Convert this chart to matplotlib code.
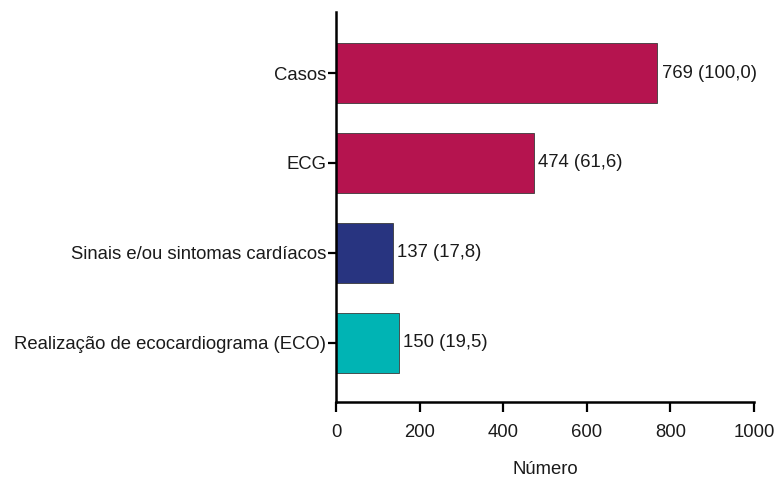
import matplotlib
matplotlib.use("Agg")
import matplotlib.pyplot as plt

categories = ["Casos", "ECG", "Sinais e/ou sintomas cardíacos", "Realização de ecocardiograma (ECO)"]
values = [769, 474, 137, 150]
labels = ["769 (100,0)", "474 (61,6)", "137 (17,8)", "150 (19,5)"]
colors = ["#B5144F", "#B5144F", "#283480", "#00B4B4"]
xticks = [0, 200, 400, 600, 800, 1000]

FS = 13.3
plt.rcParams['font.family'] = ['Liberation Sans', 'DejaVu Sans']
fig = plt.figure(figsize=(7.76, 4.79), dpi=100)
ax = fig.add_axes([336/776, 1-402/479, (754-336)/776, (402-12)/479])

y = list(range(len(categories)))
ax.barh(y, values, height=0.667, color=colors, edgecolor="#3a3a3a", linewidth=0.6)
for yi, v, lab in zip(y, values, labels):
    ax.annotate(lab, (v, yi), xytext=(3, 0), textcoords="offset points",
                va="center", ha="left", fontsize=FS, color="#1a1a1a")

ax.set_yticks(y)
ax.set_yticklabels(categories, fontsize=FS, color="#1a1a1a")
ax.set_ylim(3.66, -0.68)
ax.set_xlim(0, 1000)
ax.set_xticks(xticks)
ax.set_xticklabels([str(t) for t in xticks], fontsize=FS, color="#1a1a1a")
ax.set_xlabel("Número", fontsize=FS, color="#1a1a1a", labelpad=14)

for s in ["top", "right"]:
    ax.spines[s].set_visible(False)
for s in ["left", "bottom"]:
    ax.spines[s].set_linewidth(1.8)
    ax.spines[s].set_color("black")
ax.tick_params(axis="x", length=7, width=1.6, pad=9)
ax.tick_params(axis="y", length=6, width=1.6, pad=1)

fig.savefig("out.png", dpi=100)
